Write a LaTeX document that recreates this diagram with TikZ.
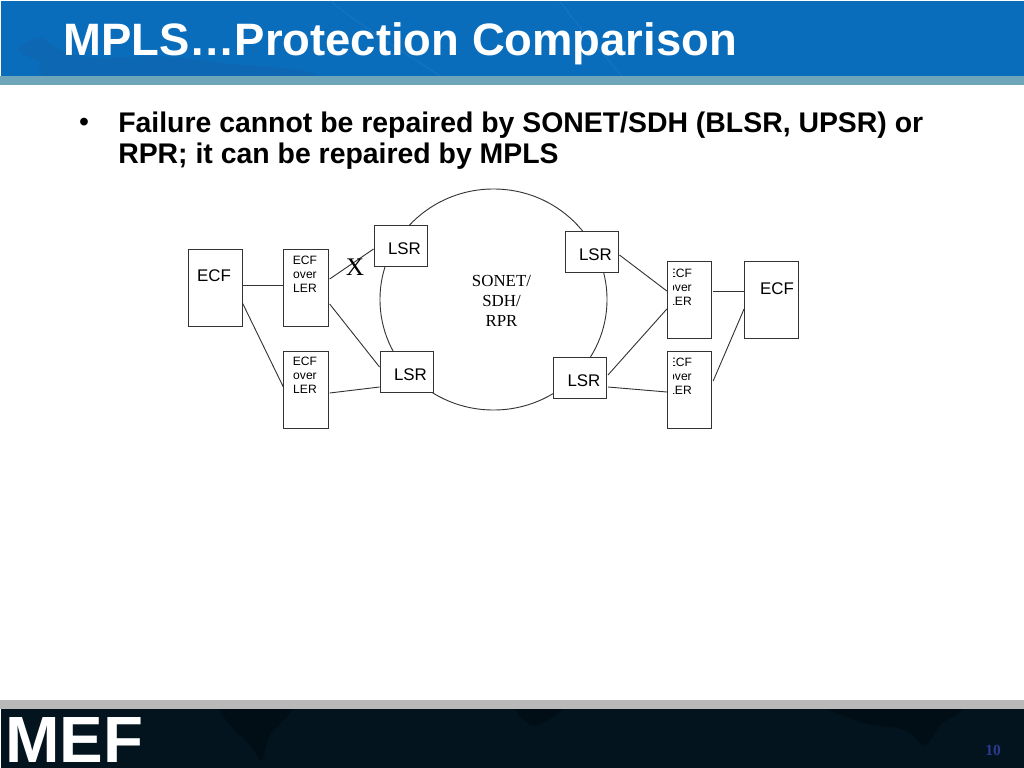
\documentclass[tikz,border=0pt]{standalone}
\usepackage{fontspec}
\setmainfont{Liberation Sans}
\newfontfamily\timesfont{Liberation Serif}
\usetikzlibrary{positioning, shapes.geometric, calc}
\definecolor{mBlue}{HTML}{0A6DBC}
\definecolor{mBlueDark}{HTML}{0E67B3}
\definecolor{mBlueLight}{HTML}{1A77C2}
\definecolor{mTealBar}{HTML}{6FA5B9}
\definecolor{mGrayBar}{HTML}{B9B9B9}
\definecolor{mNavy}{HTML}{03141F}
\definecolor{mNavyDark}{HTML}{020E16}
\definecolor{mNum}{HTML}{2B3A8E}
\definecolor{mLine}{HTML}{333333}

\begin{document}
\begin{tikzpicture}[
  x=0.025cm, y=-0.025cm,
  anybox/.style={draw=mLine, fill=white, line width=0.65pt, inner sep=0pt},
  ecfbox/.style={anybox, minimum width=1.35cm, minimum height=1.925cm},
  lerbox/.style={anybox, minimum width=1.11cm, minimum height=1.925cm},
  lsrbox/.style={anybox, minimum width=1.325cm, minimum height=1.025cm},
  wire/.style={draw=mLine, line width=0.65pt},
  biglabel/.style={font=\fontsize{12}{14}\selectfont, inner sep=0pt},
  lerlabel/.style={font=\fontsize{8.6}{10}\selectfont, align=center, inner sep=0pt},
  ringlabel/.style={font=\timesfont\fontsize{12}{14.3}\selectfont, align=center, inner sep=0pt},
]
  \useasboundingbox (0,0) rectangle (1024,768);
  % title and footer bands
  \fill[mBlue] (1,1) rectangle (1024,76);
  \fill[mBlueDark] plot[smooth cycle] coordinates {(18,50) (40,38) (60,50) (100,58) (160,56) (230,64) (300,70) (300,78) (60,78) (40,62)};
  \draw[mBlueLight, line width=0.5pt] (560,1) .. controls (580,30) and (600,50) .. (622,76);
  \draw[mBlueLight, line width=0.5pt] (330,1) .. controls (360,25) and (400,50) .. (440,76);
  \fill[mTealBar] (0,76) rectangle (1024,85);
  \fill[mNavy] (1,709) rectangle (1024,768);
  \fill[mNavyDark] plot[smooth cycle] coordinates {(222,705) (292,705) (270,735) (262,760) (250,745) (230,725)};
  \fill[mNavyDark] plot[smooth cycle] coordinates {(515,705) (565,705) (545,722) (530,725)};
  \fill[mNavyDark] plot[smooth cycle] coordinates {(830,705) (960,705) (940,725) (925,745) (905,730) (860,722)};
  \fill[white] (0,690) rectangle (1024,700);
  \fill[mGrayBar] (0,700) rectangle (1024,709);
  \node[anchor=west, text=white, font=\bfseries\fontsize{32.3}{36}\selectfont, inner sep=0pt] (title) at (63,44) {MPLS…Protection Comparison};
  \node[anchor=base west, text=white, font=\bfseries\fontsize{46.5}{48}\selectfont, inner sep=0pt] (logo) at (5,762) {MEF};
  \node[text=mNum, font=\timesfont\bfseries\fontsize{11}{13}\selectfont, inner sep=0pt] (pagenum) at (993,750) {10};
  % bullet
  \node[font=\fontsize{20.2}{22}\selectfont, inner sep=0pt] (dot) at (84,125) {•};
  \node[anchor=north west, align=left, font=\bfseries\fontsize{20.2}{22}\selectfont, inner sep=0pt] (body) at (118,112) {Failure cannot be repaired by SONET/SDH (BLSR, UPSR) or\\RPR; it can be repaired by MPLS};
  % ring
  \node[ellipse, draw=mLine, line width=0.65pt, minimum width=5.675cm, minimum height=5.525cm, inner sep=0pt] (ring) at (493.5,299.5) {};
  \node[ringlabel] (ringtext) at (501.5,301) {SONET/\\SDH/\\RPR};
  % boxes
  \node[ecfbox] (ecfL) at (215,287.5) {};
  \node[lerbox] (lerA) at (306,287.5) {};
  \node[lerbox] (lerB) at (306,389.5) {};
  \node[lsrbox] (lsrA) at (400.5,245.5) {};
  \node[lsrbox] (lsrB) at (406.5,371.5) {};
  \node[lsrbox] (lsrC) at (591.5,251.5) {};
  \node[lsrbox] (lsrD) at (580,377.5) {};
  \node[lerbox] (lerC) at (689.5,299.5) {};
  \node[lerbox] (lerD) at (689.5,389.5) {};
  \node[ecfbox] (ecfR) at (771.5,299.5) {};
  % links
  \draw[wire] ($(ecfL.east)+(0,-2.5)$) -- ($(lerA.west)+(0,-2.5)$);
  \draw[wire] ($(ecfL.east)+(0,15.5)$) -- ($(lerB.west)+(0,-2.5)$);
  \draw[wire] ($(lerA.east)+(1,-8.5)$) -- ($(lsrA.west)+(0,3.5)$);
  \draw[wire] ($(lerA.east)+(1,16.5)$) -- ($(lsrB.west)+(0,-4.5)$);
  \draw[wire] ($(lerB.east)+(1,3.5)$) -- ($(lsrB.west)+(0,15.5)$);
  \draw[wire] ($(lsrD.east)+(1,9.5)$) -- ($(lerD.west)+(0,2.5)$);
  \draw[wire] ($(lsrD.east)+(1,-2.5)$) -- ($(lerC.west)+(0,9.5)$);
  \draw[wire] ($(lsrC.east)+(1,3.5)$) -- ($(lerC.west)+(0,-8.5)$);
  \draw[wire] ($(lerC.east)+(1,-8.5)$) -- ($(ecfR.west)+(0,-8.5)$);
  \draw[wire] ($(lerD.east)+(1,-8.5)$) -- ($(ecfR.west)+(0,9.5)$);
  % labels
  \node[biglabel] (ecfLtext) at (214,276) {ECF};
  \node[biglabel] (ecfRtext) at (777,288.5) {ECF};
  \node[biglabel] (lsrAtext) at (404.5,249) {LSR};
  \node[biglabel] (lsrBtext) at (410.5,374.5) {LSR};
  \node[biglabel] (lsrCtext) at (595.5,255) {LSR};
  \node[biglabel] (lsrDtext) at (584,380.5) {LSR};
  \node[lerlabel] (lerAtext) at (305,274) {ECF\\over\\LER};
  \node[lerlabel] (lerBtext) at (305,375.5) {ECF\\over\\LER};
  \begin{scope}
    \clip (673,255) rectangle (711,420);
    \node[lerlabel] (lerCtext) at (680,287) {ECF\\over\\LER};
    \node[lerlabel] (lerDtext) at (680,376) {ECF\\over\\LER};
  \end{scope}
  \node[font=\timesfont\fontsize{18}{20}\selectfont, inner sep=0pt] (cut) at (355,267.5) {X};
\end{tikzpicture}
\end{document}
